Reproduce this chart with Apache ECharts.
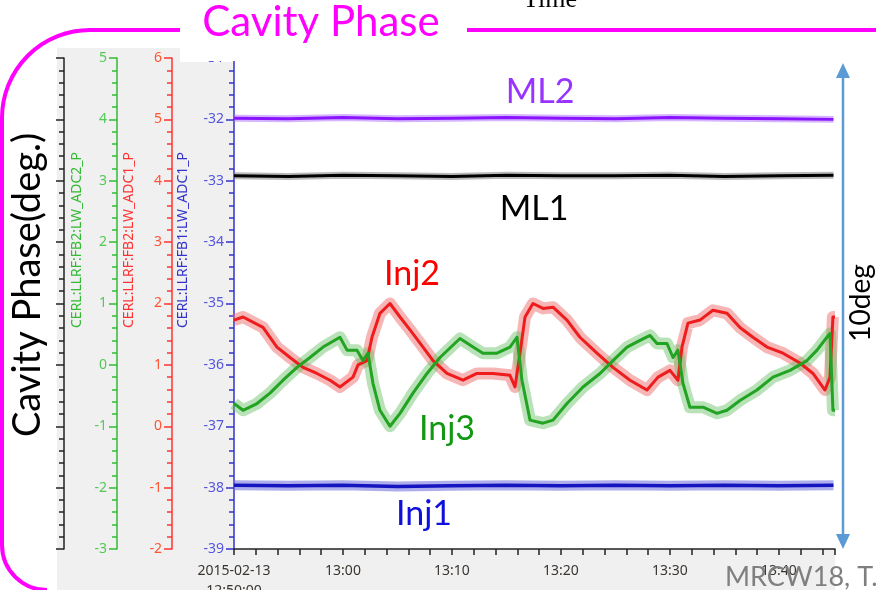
<!DOCTYPE html>
<html>
<head>
<meta charset="utf-8">
<script src="https://cdn.jsdelivr.net/npm/echarts@6/dist/echarts.min.js"></script>
<style>html,body{margin:0;padding:0;background:#fff;}#c{width:876px;height:590px;}</style>
</head>
<body>
<div id="c"></div>
<script>
// ---- data (minutes after 2015-02-13 12:50:00, phase in degrees) ----
var xTickLabels = ['2015-02-13\n12:50:00', '13:00', '13:10', '13:20', '13:30', '13:40'];

var flatTimes = [0, 5, 10, 15, 20, 25, 30, 35, 40, 45, 50, 55];
var ml2Values = [-31.98, -31.99, -31.97, -31.99, -31.98, -31.97, -31.98, -31.99, -31.97, -31.98, -31.99, -32.0];
var ml1Values = [-32.92, -32.93, -32.91, -32.92, -32.93, -32.91, -32.92, -32.92, -32.91, -32.93, -32.92, -32.91];
var inj1Values = [-37.96, -37.97, -37.96, -37.98, -37.97, -37.96, -37.97, -37.96, -37.97, -37.96, -37.97, -37.96];

var inj2Times = [0, 0.83, 2.66, 3.94, 5.14, 6.33, 7.61, 8.81, 9.72, 10.92, 11.38, 12.2, 12.66, 13.39, 14.31, 15.23, 16.15, 17.34, 18.26, 19.54, 21.01, 22.29, 23.76, 25.32, 25.78, 26.24, 26.7, 27.43, 28.35, 29.27, 30.55, 31.74, 33.3, 34.77, 36.33, 37.89, 38.9, 40.0, 40.73, 41.1, 41.65, 42.75, 43.94, 45.23, 46.42, 47.61, 48.9, 50.37, 51.93, 53.12, 54.22, 54.68, 54.95, 55.14];
var inj2Values = [-35.27, -35.22, -35.39, -35.71, -35.88, -36.04, -36.14, -36.25, -36.36, -36.2, -36.0, -35.93, -35.55, -35.16, -35.0, -35.22, -35.43, -35.71, -35.93, -36.14, -36.25, -36.14, -36.14, -36.17, -36.36, -35.81, -35.22, -35.0, -35.08, -35.06, -35.27, -35.55, -35.81, -36.04, -36.25, -36.41, -36.2, -36.09, -36.25, -35.71, -35.32, -35.27, -35.11, -35.16, -35.39, -35.55, -35.71, -35.81, -35.97, -36.14, -36.41, -36.2, -35.22, -35.22];

var inj3Times = [0, 0.83, 2.11, 3.3, 4.5, 5.78, 6.97, 8.17, 9.72, 10.37, 11.28, 11.83, 12.29, 12.75, 13.39, 14.31, 15.23, 16.42, 17.71, 18.9, 20.73, 21.93, 22.84, 24.13, 25.32, 25.96, 26.42, 27.16, 28.35, 29.27, 30.55, 32.02, 33.58, 34.77, 36.06, 37.25, 38.17, 38.81, 39.72, 40.28, 40.73, 41.19, 41.83, 43.03, 44.31, 45.23, 46.42, 47.98, 49.45, 51.01, 52.57, 53.49, 54.4, 54.68, 54.95, 55.14];
var inj3Values = [-36.63, -36.74, -36.63, -36.46, -36.25, -36.04, -35.88, -35.71, -35.55, -35.76, -35.76, -35.93, -35.81, -36.3, -36.74, -37.0, -36.79, -36.46, -36.14, -35.88, -35.57, -35.71, -35.81, -35.81, -35.71, -35.55, -36.25, -36.9, -36.95, -36.9, -36.63, -36.36, -36.14, -35.93, -35.71, -35.6, -35.52, -35.65, -35.65, -35.88, -35.76, -36.3, -36.69, -36.69, -36.79, -36.74, -36.58, -36.41, -36.2, -36.09, -35.93, -35.76, -35.55, -35.49, -36.74, -36.74];

function pairs(xs, ys) { return xs.map(function (x, i) { return [x, ys[i]]; }); }

var chart = echarts.init(document.getElementById('c'), null, {renderer: 'canvas'});
var slideFont = 'Lato, "Open Sans", sans-serif';
var axisFont = '"Noto Sans", "Open Sans", sans-serif';

function bandSeries(data, color, width) {
  return {type: 'line', data: data, showSymbol: false, silent: true, z: 1,
    lineStyle: {color: color, width: width, join: 'round', cap: 'butt'}};
}
function mainSeries(data, color, width) {
  return {type: 'line', data: data, showSymbol: false, silent: true, z: 3,
    lineStyle: {color: color, width: width || 3, join: 'round'}};
}

function sideAxis(offset, min, max, lineColor, labelColor, showLabels) {
  return {
    type: 'value', position: 'left', offset: offset, min: min, max: max, interval: 1,
    axisLine: {show: true, onZero: false, lineStyle: {color: lineColor, width: 1.5}},
    axisTick: {show: true, length: 8, lineStyle: {color: lineColor, width: 1.5}},
    minorTick: {show: true, splitNumber: 5, length: 5, lineStyle: {color: lineColor, width: 1.5}},
    splitLine: {show: false}, minorSplitLine: {show: false},
    axisLabel: {show: showLabels, color: labelColor, fontSize: 14, fontFamily: axisFont, margin: 10}
  };
}

function txt(text, x, y, size, color, rot, family) {
  return {type: 'text', x: x, y: y, rotation: rot || 0, z: 50,
    style: {text: text, x: 0, y: 0, fill: color, font: size + 'px ' + (family || slideFont),
      textAlign: 'center', textVerticalAlign: 'middle', align: 'center', verticalAlign: 'middle'}};
}

var magenta = '#ff00ff';
var option = {
  animation: false,
  backgroundColor: '#ffffff',
  grid: {left: 234, right: 41, top: 58, bottom: 41, containLabel: false, outerBoundsMode: 'none'},
  xAxis: {
    type: 'value', min: 0, max: 55.14, interval: 10,
    axisLine: {show: true, onZero: false, lineStyle: {color: '#222', width: 1.5}},
    axisTick: {show: true, length: 6, lineStyle: {color: '#222', width: 1.5}},
    minorTick: {show: true, splitNumber: 5, length: 6, lineStyle: {color: '#222', width: 1.5}},
    splitLine: {show: false},
    axisLabel: {color: '#3a3530', fontSize: 14, fontFamily: axisFont, margin: 12, lineHeight: 20,
      showMaxLabel: false,
      formatter: function (v) { var i = Math.round(v / 10); return xTickLabels[i] || ''; }}
  },
  yAxis: [
    sideAxis(0, -39, -31, '#3333cc', '#5555dd', true),
    sideAxis(62, -2, 6, '#ff3333', '#ff5533', true),
    sideAxis(117, -3, 5, '#33bb33', '#55c855', true),
    sideAxis(170, 0, 8, '#222222', '#222222', false)
  ],
  series: [
    bandSeries(pairs(flatTimes, ml2Values), 'rgba(180,120,255,0.55)', 7),
    bandSeries(pairs(flatTimes, ml1Values), 'rgba(130,130,130,0.55)', 7),
    bandSeries(pairs(flatTimes, inj1Values), 'rgba(120,120,225,0.6)', 10),
    bandSeries(pairs(inj2Times, inj2Values), 'rgba(240,110,110,0.5)', 12),
    bandSeries(pairs(inj3Times, inj3Values), 'rgba(100,190,100,0.45)', 12),
    mainSeries(pairs(flatTimes, ml2Values), '#8a14ff', 3),
    mainSeries(pairs(flatTimes, ml1Values), '#000000', 3),
    mainSeries(pairs(flatTimes, inj1Values), '#1414c0', 3.5),
    mainSeries(pairs(inj2Times, inj2Values), '#ee1c1c', 3),
    mainSeries(pairs(inj3Times, inj3Values), '#22a322', 3)
  ],
  graphic: {elements: [
    {type: 'rect', z: -5, shape: {x: 57, y: 48, width: 123, height: 542}, style: {fill: '#f0f0f0'}},
    {type: 'rect', z: -5, shape: {x: 180, y: 62, width: 54, height: 528}, style: {fill: '#f0f0f0'}},
    {type: 'rect', z: -5, shape: {x: 234, y: 549, width: 601, height: 41}, style: {fill: '#f0f0f0'}},
    {type: 'rect', z: 40, shape: {x: 180, y: 36, width: 60, height: 25}, style: {fill: '#ffffff'}},
    {type: 'line', z: 40, shape: {x1: 180, y1: 30, x2: 90, y2: 30}, style: {stroke: magenta, lineWidth: 4}},
    {type: 'arc', z: 40, shape: {cx: 90, cy: 118, r: 88, startAngle: Math.PI, endAngle: Math.PI * 1.5, clockwise: true},
      style: {stroke: magenta, lineWidth: 4, fill: null}},
    {type: 'line', z: 40, shape: {x1: 2, y1: 118, x2: 2, y2: 545}, style: {stroke: magenta, lineWidth: 4}},
    {type: 'arc', z: 40, shape: {cx: 47, cy: 545, r: 45, startAngle: Math.PI * 0.5, endAngle: Math.PI, clockwise: true},
      style: {stroke: magenta, lineWidth: 4, fill: null}},
    {type: 'line', z: 40, shape: {x1: 467, y1: 30, x2: 880, y2: 30}, style: {stroke: magenta, lineWidth: 4}},
    txt('Cavity Phase', 321, 22, 42, magenta),
    txt('Time', 550, 0, 26, '#000000', 0, '"Liberation Serif", serif'),
    txt('Cavity Phase(deg.)', 28, 285, 38, '#000000', Math.PI / 2),
    txt('CERL:LLRF:FB2:LW_ADC2_P', 77, 240, 14, '#33bb33', Math.PI / 2, axisFont),
    txt('CERL:LLRF:FB2:LW_ADC1_P', 129, 240, 14, '#ff3333', Math.PI / 2, axisFont),
    txt('CERL:LLRF:FB1:LW_ADC1_P', 183, 240, 14, '#3333cc', Math.PI / 2, axisFont),
    txt('ML2', 540, 92, 34, '#9933ff'),
    txt('ML1', 534, 209, 34, '#000000'),
    txt('Inj2', 412, 274, 34, '#ff0000'),
    txt('Inj3', 447, 429, 34, '#119911'),
    txt('Inj1', 424, 514, 34, '#1010dd'),
    {type: 'line', z: 40, shape: {x1: 843, y1: 72, x2: 843, y2: 540}, style: {stroke: '#5b9bd5', lineWidth: 2.5}},
    {type: 'polygon', z: 40, shape: {points: [[836, 78], [850, 78], [843, 63]]}, style: {fill: '#5b9bd5'}},
    {type: 'polygon', z: 40, shape: {points: [[836, 534], [850, 534], [843, 549]]}, style: {fill: '#5b9bd5'}},
    txt('10deg', 861, 303, 28, '#000000', Math.PI / 2),
    {type: 'text', z: 50, x: 725, y: 577, style: {text: 'MRCW18, T.', x: 0, y: 0, fill: '#7f7f7f',
      font: '27px ' + slideFont, textAlign: 'left', align: 'left', textVerticalAlign: 'middle', verticalAlign: 'middle'}}
  ]}
};
chart.setOption(option);
</script>
</body>
</html>
